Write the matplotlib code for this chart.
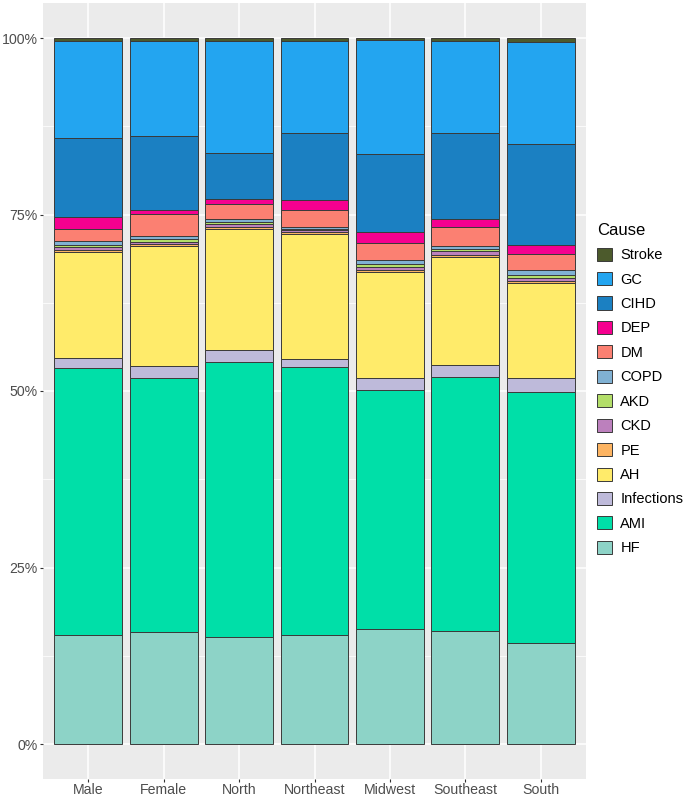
import matplotlib
matplotlib.use("Agg")
import matplotlib.pyplot as plt
from matplotlib.patches import Patch
from matplotlib.ticker import FuncFormatter, MultipleLocator
import numpy as np

plt.rcParams['font.family'] = ['Liberation Sans', 'DejaVu Sans']

categories = ["Male", "Female", "North", "Northeast", "Midwest", "Southeast", "South"]
causes = ["HF", "AMI", "Infections", "AH", "PE", "CKD", "AKD", "COPD", "DM", "DEP", "CIHD", "GC", "Stroke"]

HF = [15.5, 15.9, 15.1, 15.4, 16.25, 16.0, 14.35]
AMI = [37.7, 36.0, 39.0, 38.0, 33.85, 36.0, 35.55]
Infections = [1.5, 1.6, 1.75, 1.1, 1.8, 1.7, 1.9]
AH = [15.0, 17.0, 17.0, 17.8, 14.9, 15.3, 13.5]
PE = [0.3, 0.3, 0.3, 0.25, 0.3, 0.3, 0.3]
CKD = [0.35, 0.35, 0.4, 0.25, 0.5, 0.5, 0.4]
AKD = [0.3, 0.35, 0.4, 0.2, 0.4, 0.3, 0.4]
COPD = [0.55, 0.4, 0.4, 0.3, 0.5, 0.5, 0.7]
DM = [1.75, 3.1, 2.1, 2.4, 2.5, 2.7, 2.3]
DEP = [1.6, 0.6, 0.7, 1.3, 1.5, 1.0, 1.3]
CIHD = [11.3, 10.5, 6.55, 9.6, 11.1, 12.3, 14.3]
GC = [13.7, 13.5, 15.85, 13.0, 16.1, 13.0, 14.5]
Stroke = [0.4, 0.4, 0.4, 0.4, 0.3, 0.4, 0.5]

colors = {
    "HF": "#8DD3C7", "AMI": "#00DFA8", "Infections": "#BEBADA", "AH": "#FFEB6A",
    "PE": "#FDB462", "CKD": "#BC80BD", "AKD": "#B3DE69", "COPD": "#80B1D3",
    "DM": "#FB8072", "DEP": "#F5008F", "CIHD": "#1B80C2", "GC": "#23A5F0",
    "Stroke": "#4C5A2C",
}

series = {"HF": HF, "AMI": AMI, "Infections": Infections, "AH": AH, "PE": PE,
          "CKD": CKD, "AKD": AKD, "COPD": COPD, "DM": DM, "DEP": DEP,
          "CIHD": CIHD, "GC": GC, "Stroke": Stroke}

data = np.array([series[c] for c in causes], dtype=float)
props = data / data.sum(axis=0)

fig = plt.figure(figsize=(6.85, 7.96), dpi=100)
ax = fig.add_axes([43/685, 16.7/796, 543/685, 776.6/796])
ax.set_facecolor("#EBEBEB")

x = np.arange(1, len(categories) + 1)
bottom = np.zeros(len(categories))
edge = "#3A3A3A"
for i, c in enumerate(causes):
    ax.bar(x, props[i], width=0.9, bottom=bottom, color=colors[c],
           edgecolor=edge, linewidth=0.7, zorder=3)
    bottom += props[i]

ax.set_xlim(0.4, 7.6)
ax.set_ylim(-0.05, 1.05)
ax.yaxis.set_major_locator(MultipleLocator(0.25))
ax.yaxis.set_minor_locator(MultipleLocator(0.125))
ax.yaxis.set_major_formatter(FuncFormatter(lambda v, p: f"{int(round(v*100))}%"))
ax.set_xticks(x)
ax.set_xticklabels(categories)
ax.grid(which="major", color="white", linewidth=1.1, zorder=0)
ax.grid(which="minor", axis="y", color="white", linewidth=0.55, zorder=0)
for s in ax.spines.values():
    s.set_visible(False)
ax.tick_params(axis="both", which="major", color="#333333", width=0.8,
               labelsize=10.2, labelcolor="#4D4D4D")
ax.tick_params(axis="x", which="major", length=1.8, pad=0.8)
ax.tick_params(axis="y", which="major", length=2.2, pad=1.5)
ax.tick_params(axis="both", which="minor", length=0)

handles = [Patch(facecolor=colors[c], edgecolor=edge, linewidth=0.7, label=c)
           for c in reversed(causes)]
leg = fig.legend(handles=handles, loc="center left",
                 bbox_to_anchor=(597/685, 1 - 389/796), frameon=False,
                 fontsize=10.5, title="Cause", title_fontsize=12,
                 handlelength=1.0, handleheight=1.0, handletextpad=0.6,
                 labelspacing=0.68, borderpad=0, borderaxespad=0,
                 alignment="left")

fig.savefig("out.png", dpi=100)
